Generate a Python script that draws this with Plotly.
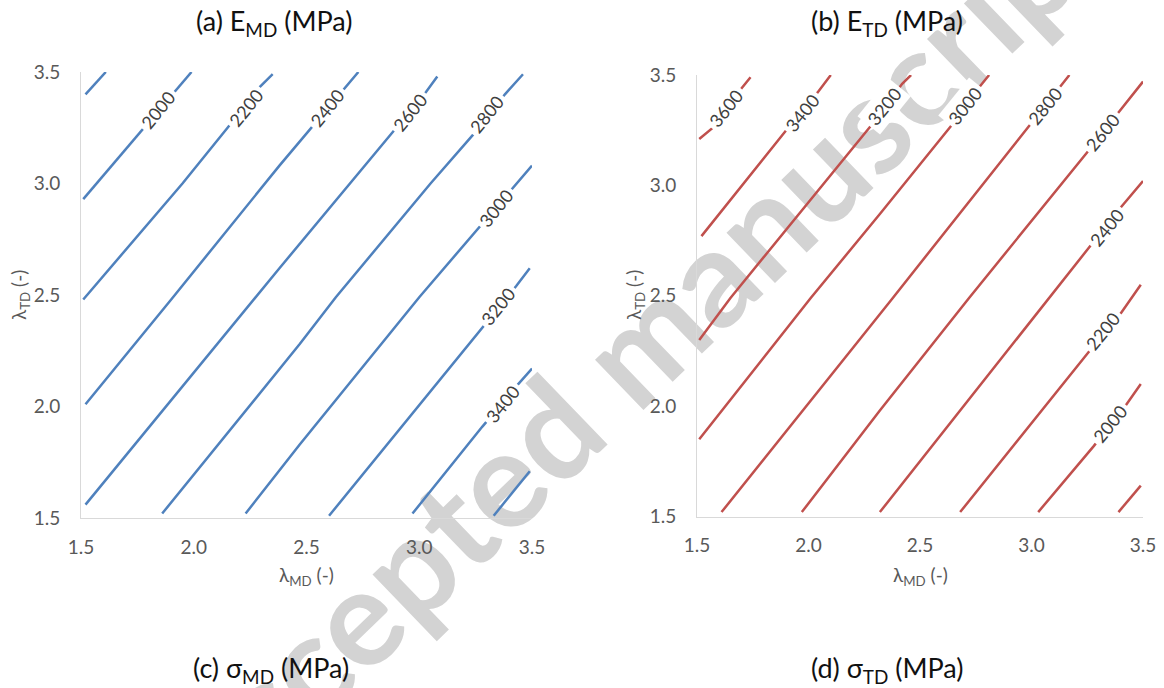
import plotly.graph_objects as go

# ---------------- data ----------------
TICKS = [1.5, 2.0, 2.5, 3.0, 3.5]

# (a) E_MD contour levels and their traced lines (lambda_MD, lambda_TD)
EMD_LEVELS = [1800, 2000, 2200, 2400, 2600, 2800, 3000, 3200, 3400, 3600]
EMD_X = [
    [1.52, 1.61],
    [1.51, 1.78, 1.92, 1.99],
    [1.51, 1.95, 2.15, 2.29, 2.35],
    [1.52, 1.90, 2.38, 2.52, 2.66, 2.73],
    [1.52, 2.27, 2.38, 2.89, 3.03, 3.08],
    [1.86, 2.47, 2.63, 3.05, 3.24, 3.38, 3.46],
    [2.23, 2.47, 3.00, 3.27, 3.42, 3.50],
    [2.60, 3.28, 3.43, 3.49],
    [2.97, 3.28, 3.43, 3.50],
    [3.33, 3.49],
]
EMD_Y = [
    [3.40, 3.50],
    [2.93, 3.25, 3.42, 3.50],
    [2.48, 3.00, 3.25, 3.43, 3.49],
    [2.01, 2.48, 3.08, 3.25, 3.42, 3.50],
    [1.56, 2.48, 2.62, 3.24, 3.41, 3.48],
    [1.52, 2.28, 2.49, 3.00, 3.22, 3.40, 3.49],
    [1.52, 1.83, 2.49, 2.81, 2.99, 3.08],
    [1.51, 2.35, 2.54, 2.62],
    [1.52, 1.91, 2.09, 2.17],
    [1.51, 1.71],
]
EMD_LABEL_X = [None, 1.84, 2.23, 2.59, 2.96, 3.30, 3.34, 3.35, 3.37, None]
EMD_LABEL_Y = [None, 3.33, 3.34, 3.34, 3.32, 3.31, 2.89, 2.45, 2.01, None]

# (b) E_TD contour levels and their traced lines
ETD_LEVELS = [3600, 3400, 3200, 3000, 2800, 2600, 2400, 2200, 2000, 1800]
ETD_X = [
    [1.51, 1.57, 1.70, 1.74],
    [1.52, 1.90, 2.04, 2.10],
    [1.51, 1.65, 2.28, 2.42, 2.46],
    [1.51, 2.01, 2.32, 2.64, 2.77, 2.81],
    [1.61, 2.37, 2.99, 3.13, 3.17],
    [1.97, 2.32, 2.72, 3.25, 3.39, 3.50],
    [2.32, 3.08, 3.26, 3.40, 3.50],
    [2.68, 3.26, 3.40, 3.49],
    [3.03, 3.28, 3.42, 3.49],
    [3.39, 3.49],
]
ETD_Y = [
    [3.21, 3.26, 3.44, 3.49],
    [2.77, 3.25, 3.42, 3.50],
    [2.30, 2.49, 3.27, 3.46, 3.50],
    [1.85, 2.49, 2.87, 3.27, 3.45, 3.50],
    [1.52, 2.48, 3.27, 3.45, 3.50],
    [1.52, 1.98, 2.49, 3.15, 3.33, 3.47],
    [1.52, 2.49, 2.72, 2.90, 3.02],
    [1.52, 2.25, 2.42, 2.55],
    [1.52, 1.82, 2.00, 2.10],
    [1.52, 1.64],
]
ETD_LABEL_X = [1.63, 1.97, 2.34, 2.70, 3.06, 3.32, 3.34, 3.32, 3.35, None]
ETD_LABEL_Y = [3.35, 3.33, 3.36, 3.36, 3.36, 3.24, 2.81, 2.34, 1.92, None]

TITLES = ["(a) E<sub>MD</sub> (MPa)", "(b) E<sub>TD</sub> (MPa)",
          "(c) σ<sub>MD</sub> (MPa)", "(d) σ<sub>TD</sub> (MPa)"]
XTITLE = "λ<sub>MD</sub> (-)"
YTITLE = "λ<sub>TD</sub> (-)"
WATERMARK = "Accepted manuscript"

# ---------------- styling ----------------
W, H = 1164, 688
FONT = "Lato"
BLUE = "#4F81BD"
RED = "#C0504D"
TICK_COL = "#595959"
LABEL_COL = "#404040"


def px(x):
    return x / W


def py(y):
    return 1 - y / H


fig = go.Figure()

panels = [
    (EMD_LEVELS, EMD_X, EMD_Y, EMD_LABEL_X, EMD_LABEL_Y, BLUE, "x", "y"),
    (ETD_LEVELS, ETD_X, ETD_Y, ETD_LABEL_X, ETD_LABEL_Y, RED, "x2", "y2"),
]

annotations = []
for levels, xs, ys, lxs, lys, col, xa, ya in panels:
    for lev, x, y, lx, ly in zip(levels, xs, ys, lxs, lys):
        fig.add_trace(go.Scatter(x=x, y=y, mode="lines", xaxis=xa, yaxis=ya,
                                 line=dict(color=col, width=2.5),
                                 showlegend=False, hoverinfo="skip"))
        if lx is not None:
            annotations.append(dict(x=lx, y=ly, xref=xa, yref=ya, text=str(lev),
                                    showarrow=False, textangle=-51,
                                    bgcolor="white", borderpad=3,
                                    font=dict(family=FONT, size=18, color=LABEL_COL)))

axis_common = dict(range=[1.5, 3.5], tickvals=TICKS, tickformat=".1f",
                   showgrid=False, zeroline=False, showline=True,
                   linecolor="#D9D9D9", linewidth=1, ticks="",
                   automargin=False,
                   tickfont=dict(family=FONT, size=19, color=TICK_COL),
                   fixedrange=True)

fig.update_layout(
    width=W, height=H,
    margin=dict(l=0, r=0, t=0, b=0, pad=0),
    paper_bgcolor="white",
    plot_bgcolor="rgba(0,0,0,0)",
    xaxis=dict(domain=[px(81), px(532)], anchor="y", ticklabelstandoff=12, **axis_common),
    yaxis=dict(domain=[py(518), py(72)], anchor="x", ticklabelstandoff=16, **axis_common),
    xaxis2=dict(domain=[px(697), px(1143)], anchor="y2", ticklabelstandoff=12, **axis_common),
    yaxis2=dict(domain=[py(516.5), py(75)], anchor="x2", ticklabelstandoff=16, **axis_common),
)

title_pos = [(274, 23), (887, 23), (271, 669), (887, 669)]
for t, (tx, ty) in zip(TITLES, title_pos):
    annotations.append(dict(x=px(tx), y=py(ty), xref="paper", yref="paper", text=t,
                            showarrow=False, xanchor="center", yanchor="middle",
                            font=dict(family=FONT, size=27, color="#111111")))

for cx in (306, 920):
    annotations.append(dict(x=px(cx), y=py(576), xref="paper", yref="paper", text=XTITLE,
                            showarrow=False, xanchor="center", yanchor="middle",
                            font=dict(family=FONT, size=19, color=TICK_COL)))
for cx in (20, 635):
    annotations.append(dict(x=px(cx), y=py(295), xref="paper", yref="paper", text=YTITLE,
                            showarrow=False, textangle=-90, xanchor="center", yanchor="middle",
                            font=dict(family=FONT, size=19, color=TICK_COL)))

fig.update_layout(annotations=annotations)

# watermark drawn beneath the plots
cx, cy = 625, 352
fig.add_shape(type="line", xref="paper", yref="paper",
              x0=px(cx - 72), y0=py(cy + 69.5), x1=px(cx + 72), y1=py(cy - 69.5),
              line=dict(color="rgba(0,0,0,0)", width=0), layer="below",
              label=dict(text="<b>" + WATERMARK + "</b>", textangle=-44,
                         textposition="middle", yanchor="middle", padding=0,
                         font=dict(family=FONT, size=136, color="#D3D3D3")))

fig.write_html("out.html")
